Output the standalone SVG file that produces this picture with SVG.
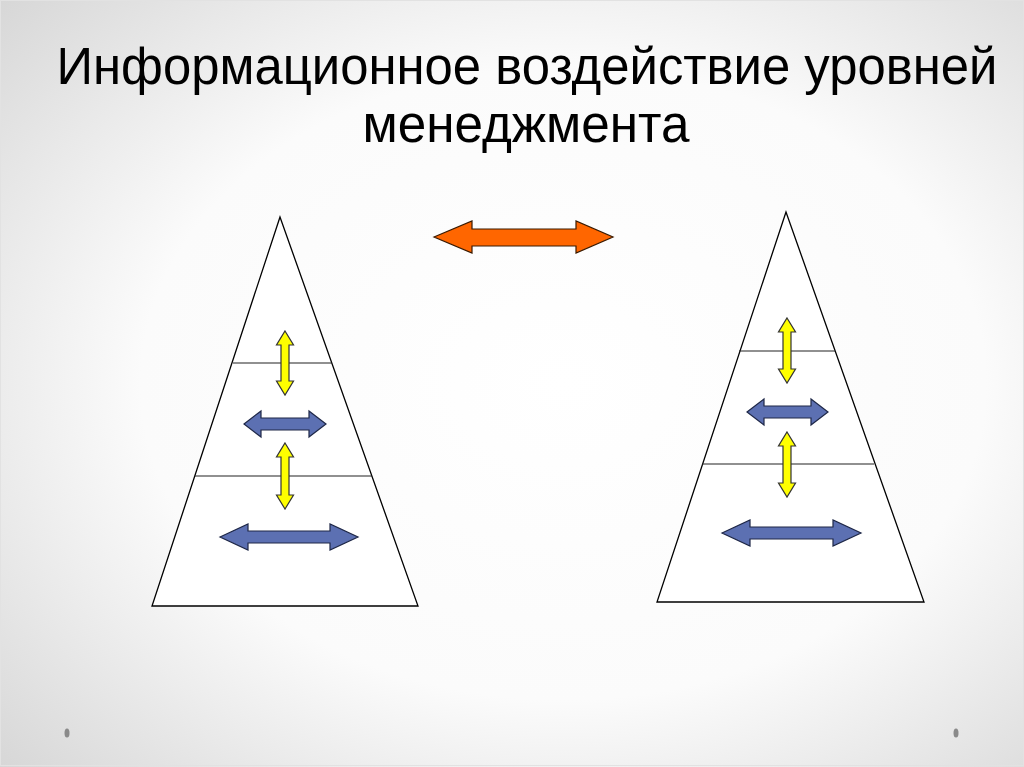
<svg xmlns="http://www.w3.org/2000/svg" width="1024" height="767" viewBox="0 0 1024 767">
<defs>
<radialGradient id="bg" cx="0.55" cy="0.5" r="0.75">
<stop offset="0" stop-color="#ffffff"/>
<stop offset="0.55" stop-color="#fbfbfb"/>
<stop offset="1" stop-color="#d6d6d6"/>
</radialGradient>
<style>
.title{font-family:"Liberation Sans",Arial,sans-serif;font-size:51px;fill:#000;}
.tri{fill:#fff;stroke:#000;stroke-width:1.3;}
.lvl{stroke:#222;stroke-width:1.2;fill:none;}
.yel{fill:#ffff00;stroke:#333;stroke-width:1.2;stroke-linejoin:miter;}
.blu{fill:#5c70b2;stroke:#1e2747;stroke-width:1.2;}
.org{fill:#ff6600;stroke:#3a1a00;stroke-width:1.2;}
.dot{fill:#8a8a8a;}
</style>
</defs>
<rect x="0" y="0" width="1024" height="767" fill="url(#bg)"/>
<rect x="0.5" y="0.5" width="1023" height="765" fill="none" stroke="#e2e2e2" stroke-width="1"/>
<g id="title">
<text class="title" x="527" y="84" text-anchor="middle" textLength="941" lengthAdjust="spacingAndGlyphs">Информационное воздействие уровней</text>
<text class="title" x="526" y="142" text-anchor="middle" textLength="327" lengthAdjust="spacingAndGlyphs">менеджмента</text>
</g>
<g id="pyramid-left">
<polygon class="tri" points="280,217 152,606 418,606"/>
<line class="lvl" x1="233" y1="363" x2="332" y2="363"/>
<line class="lvl" x1="195" y1="476" x2="372" y2="476"/>
</g>
<g id="pyramid-right">
<polygon class="tri" points="786,212 657,602 924,602"/>
<line class="lvl" x1="739" y1="351" x2="835" y2="351"/>
<line class="lvl" x1="702" y1="464" x2="874" y2="464"/>
</g>
<g id="connectors">
<polygon class="org" points="434,237 472,221 472,229 576,229 576,221 613,237 576,253 576,246 472,246 472,253"/>
<polygon class="yel" points="285,331 293.5,345 289,345 289,381 293.5,381 285,395 276.5,381 281,381 281,345 276.5,345"/>
<polygon class="blu" points="244,424 261,411 261,418 309,418 309,411 326,424 309,437 309,430 261,430 261,437"/>
<polygon class="yel" points="285,443 293.5,457 289,457 289,495 293.5,495 285,509 276.5,495 281,495 281,457 276.5,457"/>
<polygon class="blu" points="220,537 248,524 248,531 330,531 330,524 358,537 330,550 330,543 248,543 248,550"/>
<polygon class="yel" points="787,318 795.5,332 791,332 791,369 795.5,369 787,383 778.5,369 783,369 783,332 778.5,332"/>
<polygon class="blu" points="747,412 764,399 764,406 811,406 811,399 828,412 811,425 811,418 764,418 764,425"/>
<polygon class="yel" points="787,432 795.5,446 791,446 791,483 795.5,483 787,497 778.5,483 783,483 783,446 778.5,446"/>
<polygon class="blu" points="722,533 750,520 750,527 833,527 833,520 861,533 833,546 833,539 750,539 750,546"/>
</g>
<ellipse class="dot" cx="67" cy="733" rx="2.5" ry="4.5"/>
<ellipse class="dot" cx="956" cy="733" rx="2.5" ry="4.5"/>
</svg>
